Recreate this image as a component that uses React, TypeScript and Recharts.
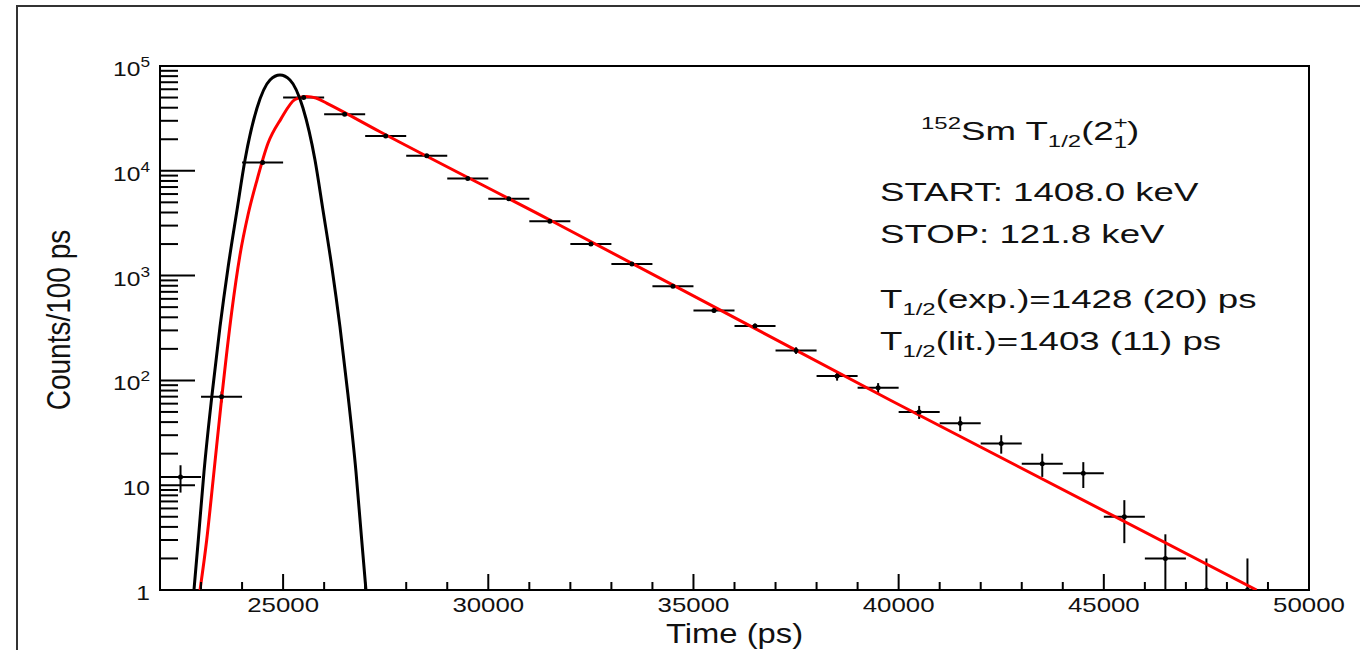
import { ComposedChart, Line, Scatter, ErrorBar, XAxis, YAxis, ReferenceArea, Label } from "recharts";

// measured histogram (1000 ps bins)
const BIN_T = [22500, 23500, 24500, 25500, 26500, 27500, 28500, 29500, 30500, 31500, 32500, 33500, 34500, 35500, 36500, 37500, 38500, 39500, 40500, 41500, 42500, 43500, 44500, 45500, 46500, 47500, 48500];
const COUNTS = [12, 70, 12000, 50000, 34700, 21500, 13900, 8450, 5400, 3300, 2000, 1290, 790, 465, 330, 193, 110, 85, 50, 39, 25, 16, 13, 5, 2, 1, 1];
const ERR_HI = [3.5, 8.4, 110, 224, 186, 147, 118, 92, 73, 57, 45, 36, 28, 22, 18, 14, 10.5, 9.2, 7.1, 6.2, 5, 4, 3.6, 2.2, 1.4, 1, 1];
const ERR_LO = [3.5, 8.4, 110, 224, 186, 147, 118, 92, 73, 57, 45, 36, 28, 22, 18, 14, 10.5, 9.2, 7.1, 6.2, 5, 4, 3.6, 2.2, 1, 0, 0];
const BIN_HALF = 500;

// prompt response (black)
const BLACK_T = [22828, 22933, 23072, 23267, 23462, 23657, 23876, 24071, 24364, 24680, 24924, 25168, 25484, 25777, 25972, 26191, 26386, 26581, 26776, 26915, 27019];
const BLACK_V = [1, 3.0, 13.4, 72.6, 324, 1183, 4200, 12680, 39700, 73500, 82000, 73500, 39700, 12680, 4200, 1183, 324, 72.6, 13.4, 3.0, 1];

// fit (red)
const RED_T = [22975, 23138, 23299, 23503, 23747, 23949, 24144, 24364, 24632, 24948, 25289, 25558, 25801, 26069, 27361, 31503, 39788, 48723];
const RED_V = [1, 3.0, 11.7, 67.9, 449, 1573, 3785, 8165, 18300, 31300, 47900, 51200, 49500, 44000, 23600, 3395, 65, 1];

const X_TICKS = [22000, 23000, 24000, 25000, 26000, 27000, 28000, 29000, 30000, 31000, 32000, 33000, 34000, 35000, 36000, 37000, 38000, 39000, 40000, 41000, 42000, 43000, 44000, 45000, 46000, 47000, 48000, 49000, 50000];
const X_LABELS = [25000, 30000, 35000, 40000, 45000, 50000];
const Y_TICKS = [1, 2, 3, 4, 5, 6, 7, 8, 9, 10, 20, 30, 40, 50, 60, 70, 80, 90, 100, 200, 300, 400, 500, 600, 700, 800, 900, 1000, 2000, 3000, 4000, 5000, 6000, 7000, 8000, 9000, 10000, 20000, 30000, 40000, 50000, 60000, 70000, 80000, 90000, 100000];
const Y_DECADES = [1, 10, 100, 1000, 10000, 100000];
const Y_BASE = ["1", "10", "10", "10", "10", "10"];
const Y_EXP = ["", "", "2", "3", "4", "5"];

const bins = BIN_T.map((t, i) => ({ t, n: COUNTS[i], ex: BIN_HALF, ey: [ERR_LO[i], ERR_HI[i]] }));
const black = BLACK_T.map((t, i) => ({ t, v: BLACK_V[i] }));
const red = RED_T.map((t, i) => ({ t, v: RED_V[i] }));

const FONT = "Liberation Sans, Arial, Helvetica, sans-serif";
const SX = 1.23; // source image is stretched horizontally
const INK = "#111";

function XTick(props: any) {
  const { x, y, payload } = props;
  const v = payload.value;
  const major = v % 5000 === 0;
  return (
    <g>
      <line x1={x} x2={x} y1={y} y2={y - (major ? 16 : 8)} stroke="#000" strokeWidth={2} />
      {X_LABELS.includes(v) && (
        <text transform={`translate(${x},${y + 22}) scale(${SX},1)`} textAnchor="middle" fontSize={21} fontFamily={FONT} fill={INK}>
          {v}
        </text>
      )}
    </g>
  );
}

function YTick(props: any) {
  const { x, y, payload } = props;
  const i = Y_DECADES.indexOf(payload.value);
  return (
    <g>
      <line x1={x} x2={x + (i >= 0 ? 35 : 18)} y1={y} y2={y} stroke="#000" strokeWidth={2} />
      {i >= 0 && (
        <text transform={`translate(${x - 10},${y + 10}) scale(${SX},1)`} textAnchor="end" fontSize={20} fontFamily={FONT} fill={INK}>
          {Y_BASE[i]}
          {Y_EXP[i] && (
            <tspan fontSize={14} dy={-9}>
              {Y_EXP[i]}
            </tspan>
          )}
        </text>
      )}
    </g>
  );
}

function Dot(props: any) {
  if (props.cx == null || props.cy == null) return <g />;
  return <circle cx={props.cx} cy={props.cy} r={2.5} fill="#000" />;
}

function XTitle(props: any) {
  const vb = props.viewBox;
  return (
    <text transform={`translate(${vb.x + vb.width / 2},643) scale(1.17,1)`} textAnchor="middle" fontSize={28} fontFamily={FONT} fill={INK}>
      Time (ps)
    </text>
  );
}

function YTitle() {
  return (
    <text transform={`translate(70,320) scale(1.2,1) rotate(-90)`} textAnchor="middle" fontSize={28} fontFamily={FONT} fill={INK}>
      Counts/100 ps
    </text>
  );
}

const BX = 1.41;

function Notes() {
  const line = (x: number, y: number, kids: any) => (
    <text transform={`translate(${x},${y}) scale(${BX},1)`} fontSize={26} fontFamily={FONT} fill={INK}>
      {kids}
    </text>
  );
  return (
    <svg width={1360} height={650} style={{ position: "absolute", left: 0, top: 0, pointerEvents: "none" }}>
      {line(
        921,
        140,
        <>
          <tspan fontSize={17} dy={-11}>152</tspan>
          <tspan dy={11}>Sm T</tspan>
          <tspan fontSize={17} dy={7}>1/2</tspan>
          <tspan dy={-7}>(2</tspan>
          <tspan fontSize={17} dy={-12}>+</tspan>
          <tspan fontSize={17} dx={-10} dy={20}>1</tspan>
          <tspan dy={-8}>)</tspan>
        </>
      )}
      {line(880, 201, "START: 1408.0 keV")}
      {line(880, 243, "STOP: 121.8 keV")}
      {line(
        880,
        308,
        <>
          T<tspan fontSize={17} dy={7}>1/2</tspan>
          <tspan dy={-7}>(exp.)=1428 (20) ps</tspan>
        </>
      )}
      {line(
        880,
        350,
        <>
          T<tspan fontSize={17} dy={7}>1/2</tspan>
          <tspan dy={-7}>(lit.)=1403 (11) ps</tspan>
        </>
      )}
    </svg>
  );
}

export default function App() {
  return (
    <div style={{ position: "absolute", left: 0, top: 0, width: 1360, height: 650, background: "#fff" }}>
      <div style={{ position: "absolute", left: 16, top: 5, width: 1344, height: 645, borderTop: "2px solid #333", borderLeft: "2px solid #333" }} />
      <div style={{ position: "absolute", left: 0, top: 0 }}>
        <ComposedChart width={1360} height={650} margin={{ top: 66, right: 51, bottom: 0, left: 60 }}>
          <XAxis
            dataKey="t"
            type="number"
            domain={[22000, 50000]}
            allowDataOverflow
            ticks={X_TICKS}
            interval={0}
            tick={XTick}
            tickLine={false}
            axisLine={false}
            tickSize={0}
            tickMargin={0}
            height={60}
          >
            <Label content={XTitle} />
          </XAxis>
          <YAxis
            type="number"
            scale="log"
            domain={[1, 100000]}
            allowDataOverflow
            ticks={Y_TICKS}
            interval={0}
            tick={YTick}
            tickLine={false}
            axisLine={false}
            tickSize={0}
            tickMargin={0}
            width={100}
          >
            <Label content={YTitle} />
          </YAxis>
          <Scatter data={bins} dataKey="n" shape={Dot} isAnimationActive={false}>
            <ErrorBar dataKey="ex" direction="x" width={0} stroke="#000" strokeWidth={2} isAnimationActive={false} />
            <ErrorBar dataKey="ey" direction="y" width={0} stroke="#000" strokeWidth={2} isAnimationActive={false} />
          </Scatter>
          <Line data={red} dataKey="v" type="monotone" stroke="#ff0000" strokeWidth={3} dot={false} isAnimationActive={false} />
          <Line data={black} dataKey="v" type="monotone" stroke="#000" strokeWidth={3} dot={false} isAnimationActive={false} />
          <ReferenceArea x1={22000} x2={50000} y1={1} y2={100000} fill="none" stroke="#000" strokeWidth={2} ifOverflow="visible" />
        </ComposedChart>
      </div>
      <Notes />
    </div>
  );
}
